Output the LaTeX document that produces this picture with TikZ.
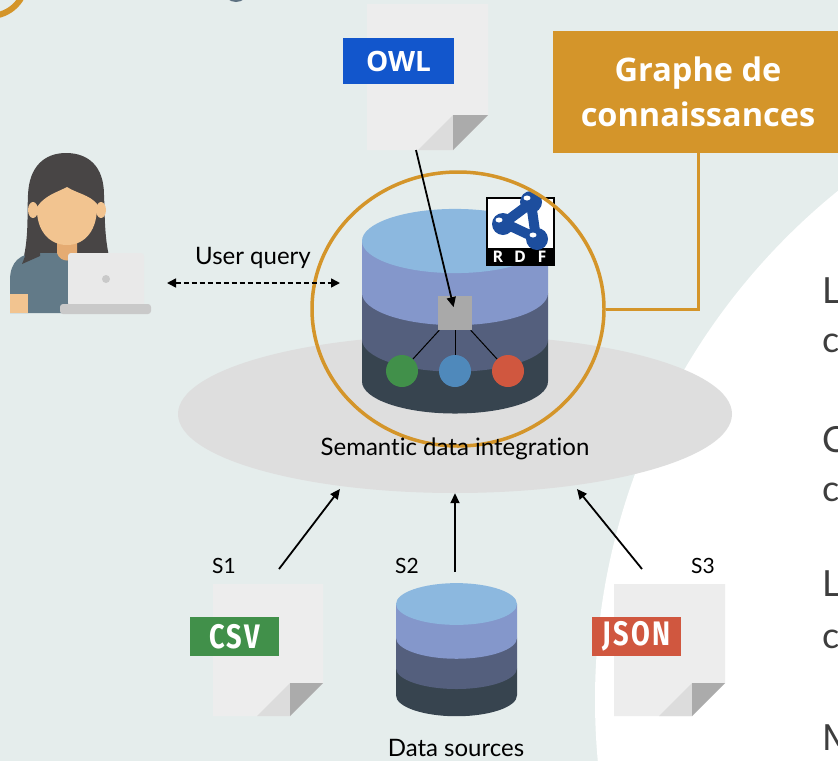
\documentclass[tikz,border=0pt]{standalone}
\usepackage{fontspec}
\setmainfont[Ligatures=NoCommon]{Lato}
\newfontfamily\headfont{Open Sans}
\newfontfamily\tagfont[FakeStretch=0.8,LetterSpace=7]{Fira Sans}
\usetikzlibrary{
  arrows.meta,
  shapes.geometric,
  positioning,
}

\definecolor{slide}{HTML}{E5EDEC}
\definecolor{slate}{HTML}{5E7282}
\definecolor{gold}{HTML}{D4952A}
\definecolor{owlblue}{HTML}{1256CC}
\definecolor{csvgreen}{HTML}{41904A}
\definecolor{blobblue}{HTML}{4F89BB}
\definecolor{jsonred}{HTML}{D0573F}
\definecolor{pagegray}{HTML}{EDEDED}
\definecolor{foldlight}{HTML}{DCDCDC}
\definecolor{folddark}{HTML}{ABABAB}
\definecolor{dbtop}{HTML}{8CB8DF}
\definecolor{dbA}{HTML}{8497CB}
\definecolor{dbB}{HTML}{545F7D}
\definecolor{dbC}{HTML}{37444F}
\definecolor{sdigray}{HTML}{DEDEDE}
\definecolor{hubgray}{HTML}{A9A9A9}
\definecolor{rdfblue}{HTML}{1D4E9E}
\definecolor{hair}{HTML}{484545}
\definecolor{skin}{HTML}{F2C490}
\definecolor{skindark}{HTML}{E5AB72}
\definecolor{shirt}{HTML}{627A88}
\definecolor{laptop}{HTML}{E9E9E9}
\definecolor{laptopbase}{HTML}{C9C9C9}
\definecolor{edgetext}{HTML}{3E3E3E}

% stacked database: centre x, cap y, radius
\newcommand\dbstack[3]{%
  \foreach \ta/\tb/\col in {1.06/1.51/dbC,0.56/1.06/dbB,0/0.56/dbA}{
    \fill[\col] ({#1-#3},{#2+\ta*#3}) -- ({#1-#3},{#2+\tb*#3})
      arc[start angle=180,end angle=360,x radius=#3pt,y radius={0.345*#3pt}]
      -- ({#1+#3},{#2+\ta*#3}) -- cycle;
  }
  \fill[dbtop] (#1,#2) ellipse[x radius=#3pt,y radius={0.345*#3pt}];
}

\tikzset{
  lbl/.style={font=\fontsize{24}{28}\selectfont, inner sep=0pt},
  srclbl/.style={font=\fontsize{21}{25}\selectfont, inner sep=0pt},
  tag/.style={text=white, inner sep=0pt, minimum width=89pt, minimum height=39pt,
    font=\tagfont\bfseries\fontsize{34}{36}\selectfont},
  flow/.style={line width=1.8pt, -{Triangle[length=10pt,width=9pt]}},
  query/.style={line width=1.6pt, dash pattern=on 5pt off 3pt,
    {Triangle[length=9pt,width=9pt]}-{Triangle[length=9pt,width=9pt]}},
  tie/.style={line width=1pt},
  blob/.style={circle, minimum size=32pt, inner sep=0pt},
  edgeletter/.style={text=edgetext, font=\fontsize{36}{40}\selectfont, inner sep=0pt},
}

\begin{document}
\begin{tikzpicture}[x=1pt,y=-1pt]
\clip (0,0) rectangle (838,761);
\fill[slide] (0,0) rectangle (838,761);
\fill[white] (1250,700) circle[radius=655pt];
\draw[gold, line width=6pt] (-10,-20) circle[radius=36pt];
\fill[slate] (236,-9) ellipse[x radius=12pt, y radius=11pt];

% user at the laptop
\fill[hair] (22,264) .. controls (29,240) and (27,215) .. (28,195)
  .. controls (29,166) and (45,153) .. (66,153)
  .. controls (88,153) and (104,166) .. (104,195)
  .. controls (105,215) and (104,240) .. (111,264) -- cycle;
\fill[shirt] (10,313) -- (10,280) .. controls (10,262) and (20,253) .. (38,253)
  -- (72,253) -- (72,313) -- cycle;
\fill[hair] (22,264) .. controls (26,255) and (28,245) .. (30,235) -- (40,235) -- (40,256) -- cycle;
\fill[skin] (10,294) rectangle (28,313);
\fill[skindark] (57,232) -- (57,253) .. controls (60,263) and (74,263) .. (77,253)
  -- (77,232) -- cycle;
\fill[skin] (33,210) ellipse[x radius=5pt, y radius=8pt];
\fill[skin] (101,210) ellipse[x radius=5pt, y radius=8pt];
\fill[skin] (37,207) .. controls (45,195) and (58,192) .. (67,187)
  .. controls (76,193) and (90,195) .. (97,204)
  .. controls (98,230) and (85,245) .. (67,245)
  .. controls (49,245) and (36,230) .. (37,207) -- cycle;
\fill[laptop, rounded corners=3pt] (68,253) rectangle (144,306);
\fill[laptopbase, rounded corners=3pt] (60,304) rectangle (151,314);
\fill[laptopbase] (106,279) circle[radius=4pt];
\coordinate (me) at (167,283);

% integration layer and knowledge graph store
\node[ellipse, fill=sdigray, minimum width=554pt, minimum height=158pt, inner sep=0pt] (sdi) at (455,414) {};
\dbstack{455}{241}{93}
\node[fill=hubgray, minimum size=34pt, inner sep=0pt] (hub) at (455,313) {};
\foreach \c/\x [count=\i] in {csvgreen/402,blobblue/455,jsonred/508}
  \node[blob, fill=\c] (b\i) at (\x,371) {};
\foreach \i in {1,2,3} \draw[tie] (hub) -- (b\i);
\coordinate (kgin) at (340,283);

% RDF badge
\node[draw=black, line width=1.2pt, fill=white, minimum size=67pt, inner sep=0pt] (rdf) at (520.5,231.5) {};
\fill[black] (487,248) rectangle (554,265);
\foreach \l [count=\i] in {R,D,F}
  \node[text=white, inner sep=0pt, font=\headfont\bfseries\fontsize{16}{16}\selectfont] at (476+22*\i,257) {\l};
\draw[rdfblue, line width=10pt, line join=round] (504,223) -- (531,203) -- (536,238) -- cycle;
\foreach \x/\y in {531/202,503/224,537/239}{
  \fill[rdfblue] (\x,\y) circle[radius=11pt];
  \fill[white] ({\x-4},{\y-4}) ellipse[x radius=3.5pt, y radius=2.5pt];
}

\node[draw=gold, line width=3.5pt, ellipse, minimum width=292pt, minimum height=274pt, inner sep=0pt] (ring) at (458,309) {};
\node[fill=gold, text=white, minimum width=290pt, minimum height=122pt, align=center,
  font=\headfont\bfseries\fontsize{32.5}{45}\selectfont] (kg) at (698,92) {Graphe de\\connaissances};
\draw[gold, line width=3pt] (kg.south) |- (ring.east);

% file icons
\foreach \x/\y/\w/\h/\f in {367/4/121/146/35,213/584/110/132/33,614/584/111/132/33}{
  \fill[pagegray] (\x,\y) -- ++(\w,0) -- ++(0,{\h-\f}) -- ++(-\f,\f) -- (\x,{\y+\h}) -- cycle;
  \fill[foldlight] ({\x+\w-2*\f},{\y+\h}) -- ++(\f,-\f) -- ++(0,\f) -- cycle;
  \fill[folddark] ({\x+\w-\f},{\y+\h-\f}) -- ++(\f,0) -- ++(-\f,\f) -- cycle;
}
\node[tag, fill=owlblue, minimum width=111pt, minimum height=46pt,
  font=\headfont\bfseries\fontsize{28}{30}\selectfont] (owltag) at (398.5,61) {OWL};
\node[tag, fill=csvgreen] (csvtag) at (234.5,636.5) {CSV};
\node[tag, fill=jsonred] (jsontag) at (636.5,636.5) {JSON};
\dbstack{456.5}{604}{60.5}

\coordinate (owlfoot) at (416,150);
\coordinate (s1) at (279,569);
\coordinate (s2) at (455,572);
\coordinate (s3) at (642,569);
\coordinate (in1) at (340,489);
\coordinate (in3) at (577,489);

\draw[flow, shorten >=6pt] (owlfoot) -- (hub.center);
\draw[query] (me) -- (kgin);
\foreach \a/\b in {s1/in1,s2/sdi.south,s3/in3}
  \draw[flow] (\a) -- (\b);

\node[lbl] (uq) at (253,258) {User query};
\node[lbl] (sditext) at (455,449) {Semantic data integration};
\node[srclbl] (s1lbl) at (224,566) {S1};
\node[srclbl] (s2lbl) at (407,566) {S2};
\node[srclbl] (s3lbl) at (703,566) {S3};
\node[lbl] (srctext) at (456,748) {Data sources};

\foreach \t/\yy in {L/303,c/352,C/452,c/501,L/596,c/648,M/750}
  \node[edgeletter, anchor=base west] at (822,\yy) {\t};
\end{tikzpicture}
\end{document}
